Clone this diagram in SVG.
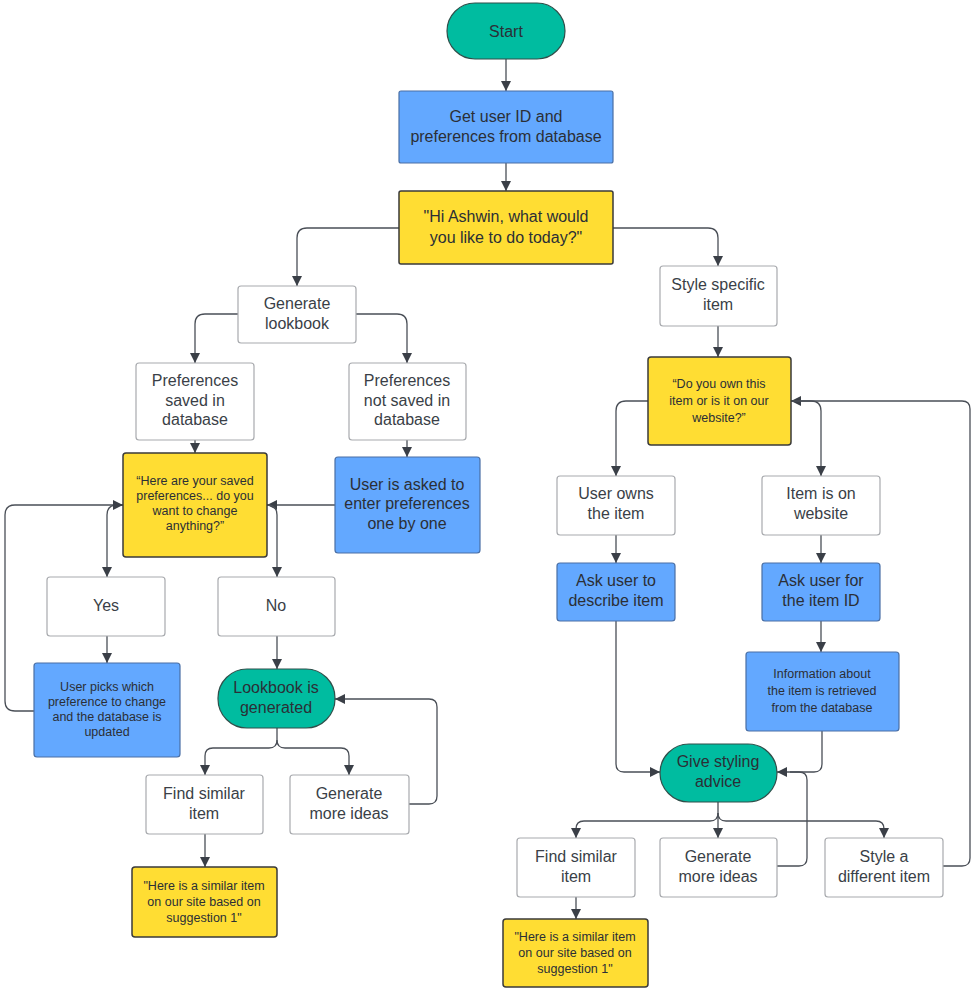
<svg xmlns="http://www.w3.org/2000/svg" width="978" height="994" viewBox="0 0 978 994">
<defs>
<marker id="ah" viewBox="0 0 10 10" refX="10" refY="5" markerWidth="10" markerHeight="10" markerUnits="userSpaceOnUse" orient="auto"><path d="M0,0 L10,5 L0,10 z" fill="#3a3f47"/></marker>
<style>
text{font-family:"Liberation Sans",Arial,sans-serif;fill:#2b2f36;text-anchor:middle}
.w{fill:#fff;stroke:#a8aaae;stroke-width:1.2}
.b{fill:#63a8ff;stroke:#4a6fa5;stroke-width:1.2}
.y{fill:#ffdd33;stroke:#3a3a3a;stroke-width:1.5}
.t{fill:#00bca0;stroke:#2f4f4a;stroke-width:1.2}
.l{font-size:16px}
.lw{font-size:16px;fill:#3a3f47}
.s{font-size:12.5px}
.c path{fill:none;stroke:#4a4f57;stroke-width:1.3;marker-end:url(#ah)}
.c path.n{marker-end:none}
</style>
</defs>
<rect width="978" height="994" fill="#fff"/>
<g class="c">
<path d="M506,59 V91"/>
<path d="M506,163 V191"/>
<path d="M399,228 H307 Q297,228 297,238 V286"/>
<path d="M613,228 H708 Q718,228 718,238 V266"/>
<path d="M238,314 H205 Q195,314 195,324 V363"/>
<path d="M356,314 H397 Q407,314 407,324 V363"/>
<path d="M195,440 V453"/>
<path d="M407,440 V457"/>
<path d="M335,505 H267"/>
<path class="n" d="M123,505 H117 Q107,505 107,515"/>
<path d="M107,515 V577"/>
<path d="M34,711 H15 Q5,711 5,701 V515 Q5,505 15,505 H123"/>
<path class="n" d="M267,505 Q277,505 277,515"/>
<path d="M277,515 V577"/>
<path d="M107,636 V663"/>
<path d="M277,636 V669"/>
<path class="n" d="M277,728 V740 Q277,748 269,748 H213 Q205,748 205,756"/>
<path d="M205,756 V775"/>
<path class="n" d="M277,740 Q277,748 285,748 H341 Q349,748 349,756"/>
<path d="M349,756 V775"/>
<path d="M409,804 H429 Q437,804 437,796 V707 Q437,699 429,699 H335"/>
<path d="M205,834 V867"/>
<path d="M718,326 V357"/>
<path d="M648,401 H626 Q616,401 616,411 V476"/>
<path d="M943,866 H962 Q970,866 970,858 V409 Q970,401 962,401 H791"/>
<path class="n" d="M791,401 H811 Q821,401 821,411"/>
<path d="M821,411 V476"/>
<path d="M616,535 V563"/>
<path d="M821,535 V563"/>
<path d="M616,621 V764 Q616,772 624,772 H660"/>
<path d="M821,621 V652"/>
<path d="M822,731 V764 Q822,772 814,772 H777"/>
<path class="n" d="M777,866 H799 Q807,866 807,858 V780 Q807,772 799,772 H790"/>
<path class="n" d="M718,802 V813 Q718,821 710,821 H584 Q576,821 576,829"/>
<path d="M576,829 V838"/>
<path d="M718,813 V838"/>
<path class="n" d="M718,813 Q718,821 726,821 H876 Q884,821 884,829"/>
<path d="M884,829 V838"/>
<path d="M576,897 V919"/>
</g>
<g id="start"><rect class="t" x="447" y="3" width="118" height="56" rx="28"/><text class="l" x="506" y="37">Start</text></g>
<g id="getuser"><rect class="b" x="399" y="91" width="214" height="72" rx="2"/><text class="l" x="506" y="122">Get user ID and</text><text class="l" x="506" y="142">preferences from database</text></g>
<g id="hi"><rect class="y" x="399" y="191" width="214" height="73" rx="2"/><text class="l" x="506" y="222">"Hi Ashwin, what would</text><text class="l" x="506" y="243">you like to do today?"</text></g>
<g id="genlook"><rect class="w" x="238" y="286" width="118" height="57" rx="3"/><text class="lw" x="297" y="309">Generate</text><text class="lw" x="297" y="329">lookbook</text></g>
<g id="stylespec"><rect class="w" x="660" y="266" width="117" height="60" rx="3"/><text class="lw" x="718" y="290">Style specific</text><text class="lw" x="718" y="310">item</text></g>
<g id="prefsaved"><rect class="w" x="136" y="363" width="118" height="77" rx="3"/><text class="lw" x="195" y="386">Preferences</text><text class="lw" x="195" y="406">saved in</text><text class="lw" x="195" y="425">database</text></g>
<g id="prefnot"><rect class="w" x="349" y="363" width="117" height="77" rx="3"/><text class="lw" x="407" y="386">Preferences</text><text class="lw" x="407" y="406">not saved in</text><text class="lw" x="407" y="425">database</text></g>
<g id="hereare"><rect class="y" x="123" y="453" width="144" height="104" rx="3"/><text class="s" x="195" y="485">“Here are your saved</text><text class="s" x="195" y="500">preferences... do you</text><text class="s" x="195" y="515">want to change</text><text class="s" x="195" y="530">anything?”</text></g>
<g id="askenter"><rect class="b" x="335" y="457" width="145" height="96" rx="3"/><text class="l" x="407" y="490">User is asked to</text><text class="l" x="407" y="509">enter preferences</text><text class="l" x="407" y="529">one by one</text></g>
<g id="yes"><rect class="w" x="47" y="577" width="118" height="59" rx="3"/><text class="lw" x="106" y="611">Yes</text></g>
<g id="no"><rect class="w" x="218" y="577" width="117" height="59" rx="3"/><text class="lw" x="276" y="611">No</text></g>
<g id="userpicks"><rect class="b" x="34" y="663" width="146" height="94" rx="3"/><text class="s" x="107" y="691">User picks which</text><text class="s" x="107" y="706">preference to change</text><text class="s" x="107" y="721">and the database is</text><text class="s" x="107" y="736">updated</text></g>
<g id="lookgen"><rect class="t" x="218" y="669" width="117" height="59" rx="29"/><text class="l" x="276" y="693">Lookbook is</text><text class="l" x="276" y="713">generated</text></g>
<g id="findL"><rect class="w" x="146" y="775" width="117" height="59" rx="3"/><text class="lw" x="204" y="799">Find similar</text><text class="lw" x="204" y="819">item</text></g>
<g id="moreL"><rect class="w" x="290" y="775" width="119" height="59" rx="3"/><text class="lw" x="349" y="799">Generate</text><text class="lw" x="349" y="819">more ideas</text></g>
<g id="simL"><rect class="y" x="132" y="867" width="145" height="70" rx="3"/><text class="s" x="204" y="890">"Here is a similar item</text><text class="s" x="204" y="906">on our site based on</text><text class="s" x="204" y="922">suggestion 1"</text></g>
<g id="doyou"><rect class="y" x="648" y="357" width="143" height="88" rx="3"/><text class="s" x="719" y="388">“Do you own this</text><text class="s" x="719" y="405">item or is it on our</text><text class="s" x="719" y="422">website?”</text></g>
<g id="owns"><rect class="w" x="557" y="476" width="118" height="59" rx="3"/><text class="lw" x="616" y="499">User owns</text><text class="lw" x="616" y="519">the item</text></g>
<g id="onweb"><rect class="w" x="762" y="476" width="118" height="59" rx="3"/><text class="lw" x="821" y="499">Item is on</text><text class="lw" x="821" y="519">website</text></g>
<g id="describe"><rect class="b" x="557" y="563" width="118" height="58" rx="3"/><text class="l" x="616" y="586">Ask user to</text><text class="l" x="616" y="606">describe item</text></g>
<g id="askid"><rect class="b" x="762" y="563" width="118" height="58" rx="3"/><text class="l" x="821" y="586">Ask user for</text><text class="l" x="821" y="606">the item ID</text></g>
<g id="info"><rect class="b" x="746" y="652" width="153" height="79" rx="3"/><text class="s" x="822" y="678">Information about</text><text class="s" x="822" y="695">the item is retrieved</text><text class="s" x="822" y="712">from the database</text></g>
<g id="give"><rect class="t" x="660" y="744" width="117" height="58" rx="29"/><text class="l" x="718" y="767">Give styling</text><text class="l" x="718" y="787">advice</text></g>
<g id="findR"><rect class="w" x="517" y="838" width="118" height="59" rx="3"/><text class="lw" x="576" y="862">Find similar</text><text class="lw" x="576" y="882">item</text></g>
<g id="moreR"><rect class="w" x="660" y="838" width="117" height="59" rx="3"/><text class="lw" x="718" y="862">Generate</text><text class="lw" x="718" y="882">more ideas</text></g>
<g id="diff"><rect class="w" x="825" y="838" width="118" height="59" rx="3"/><text class="lw" x="884" y="862">Style a</text><text class="lw" x="884" y="882">different item</text></g>
<g id="simR"><rect class="y" x="503" y="919" width="145" height="68" rx="3"/><text class="s" x="575" y="941">"Here is a similar item</text><text class="s" x="575" y="957">on our site based on</text><text class="s" x="575" y="973">suggestion 1"</text></g>
</svg>
